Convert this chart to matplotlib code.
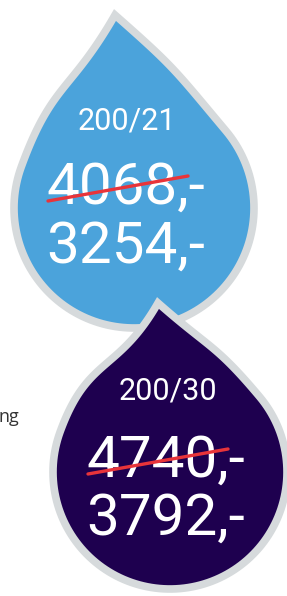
import numpy as np
import matplotlib.pyplot as plt
from matplotlib.patches import Polygon

# data
sizes = ["200/21", "200/30"]
old_prices = [4068, 4740]
new_prices = [3254, 3792]
side_text = "ng"

fill_colors = ["#4BA3DB", "#1E004F"]
border_color = "#D6DADC"
strike_color = "#E8343A"


def bezier(p0, p1, p2, p3, n=60):
    t = np.linspace(0, 1, n)[:, None]
    return ((1 - t) ** 3) * p0 + 3 * ((1 - t) ** 2) * t * p1 + 3 * (1 - t) * t ** 2 * p2 + t ** 3 * p3


def droplet(cx, cy, r, tip, a_right=-40, a_left=200, k=(0.5, 0.5), dir_r=(0.75, 0.66), dir_l=(0.5, -0.87)):
    tip = np.array(tip, float)
    c = np.array([cx, cy], float)
    ar, al = np.radians(a_right), np.radians(a_left)
    jr = c + r * np.array([np.cos(ar), np.sin(ar)])
    jl = c + r * np.array([np.cos(al), np.sin(al)])
    tr = np.array([-np.sin(ar), np.cos(ar)])
    tl = np.array([-np.sin(al), np.cos(al)])
    d_r = np.linalg.norm(jr - tip)
    d_l = np.linalg.norm(jl - tip)
    right = bezier(tip, tip + k[0] * d_r * np.array(dir_r), jr - k[1] * d_r * tr, jr)
    angs = np.linspace(ar, al, 120)
    arc = c + r * np.column_stack([np.cos(angs), np.sin(angs)])
    left = bezier(jl, jl + k[1] * d_l * tl, tip - k[0] * d_l * np.array(dir_l), tip)
    return np.vstack([right, arc, left])


fig = plt.figure(figsize=(2.87, 5.96), dpi=100)
ax = fig.add_axes([0, 0, 1, 1])
ax.set_xlim(0, 287)
ax.set_ylim(596, 0)
ax.axis("off")

shapes = [
    droplet(134, 208, 120, (115, 15)),
    droplet(170, 472, 117, (158, 303)),
]
text_left = [46, 86]
size_x = [127, 168]
size_y = [129, 400]
old_y = [204, 477]
new_y = [263, 535]

for i in range(2):
    ax.add_patch(Polygon(shapes[i], closed=True, facecolor=fill_colors[i],
                         edgecolor=border_color, linewidth=5.5, joinstyle="miter", zorder=1 + i * 3))
    ax.text(size_x[i], size_y[i], sizes[i], color="white", fontsize=22, family="Roboto",
            ha="center", va="baseline", zorder=2 + i * 3)
    ax.text(text_left[i], old_y[i], f"{old_prices[i]},-", color="white", fontsize=42, family="Roboto",
            ha="left", va="baseline", zorder=2 + i * 3)
    ax.text(text_left[i], new_y[i], f"{new_prices[i]},-", color="white", fontsize=42, family="Roboto",
            ha="left", va="baseline", zorder=2 + i * 3)
    ax.plot([text_left[i] + 2, text_left[i] + 142], [old_y[i] - 3, old_y[i] - 28], color=strike_color,
            linewidth=2.4, solid_capstyle="round", zorder=3 + i * 3)

ax.text(19, 422, side_text, color="#333333", fontsize=13, family="Open Sans", ha="right", va="baseline")

fig.savefig("out.png", dpi=100)
